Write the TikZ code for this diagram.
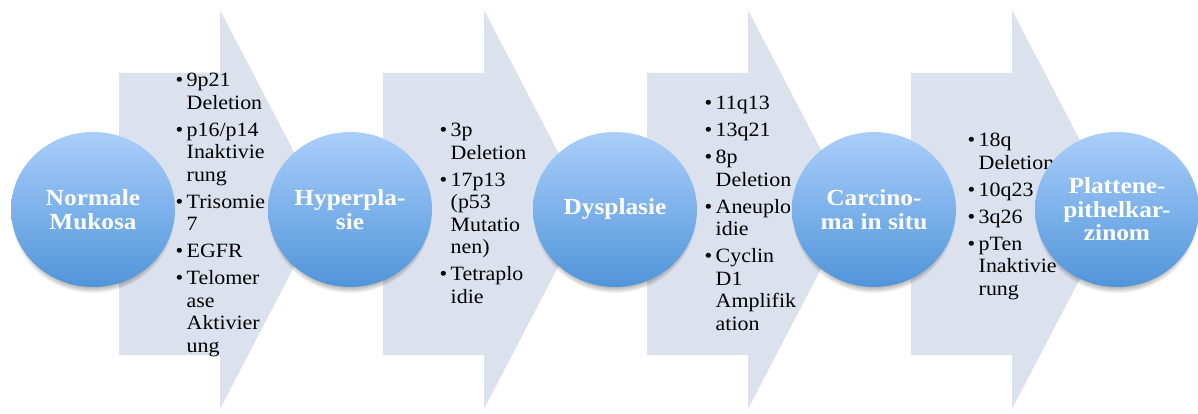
\documentclass[tikz,border=0pt]{standalone}
\usepackage{fontspec}
\setmainfont[FakeStretch=1.08]{Liberation Serif}
\newfontfamily\titlefont[FakeStretch=1.1]{Liberation Serif}
\usetikzlibrary{shapes.geometric}
\definecolor{arrowfill}{RGB}{220,225,238}
\definecolor{ctop}{RGB}{170,206,250}
\definecolor{cbot}{RGB}{80,149,218}
\newcommand{\gbul}{\makebox[11pt][l]{\textbullet}}
\begin{document}
\begin{tikzpicture}[x=1pt,y=-1pt,
  stage/.style={ellipse, minimum width=164pt, minimum height=155pt, inner sep=0pt,
    top color=ctop, bottom color=cbot, draw=none, text=white,
    font=\titlefont\bfseries\fontsize{23}{23.5}\selectfont, align=center},
  genes/.style={anchor=base west, inner sep=0pt, font=\fontsize{20.3}{22.5}\selectfont}]
\useasboundingbox (0,0) rectangle (1198,414);
% big arrows
\foreach \x in {119,383,647,911}{
  \fill[arrowfill] (\x,73) -- (\x+101,73) -- (\x+101,10) -- (\x+205,209.5)
    -- (\x+101,409) -- (\x+101,355) -- (\x,355) -- cycle;
}
% gene lists
\node[genes] (l1) at (175.5,87) {\begin{tabular}[t]{@{}l@{}l@{}}
\gbul & 9p21\\ & Deletion\\[4.5pt]
\gbul & p16/p14\\ & Inaktivie\\ & rung\\[4.5pt]
\gbul & Trisomie\\ & 7\\[4.5pt]
\gbul & EGFR\\[4.5pt]
\gbul & Telomer\\ & ase\\ & Aktivier\\ & ung
\end{tabular}};
\node[genes] (l2) at (439.5,137) {\begin{tabular}[t]{@{}l@{}l@{}}
\gbul & 3p\\ & Deletion\\[4.5pt]
\gbul & 17p13\\ & (p53\\ & Mutatio\\ & nen)\\[4.5pt]
\gbul & Tetraplo\\ & idie
\end{tabular}};
\node[genes] (l3) at (704.5,110) {\begin{tabular}[t]{@{}l@{}l@{}}
\gbul & 11q13\\[4.5pt]
\gbul & 13q21\\[4.5pt]
\gbul & 8p\\ & Deletion\\[4.5pt]
\gbul & Aneuplo\\ & idie\\[4.5pt]
\gbul & Cyclin\\ & D1\\ & Amplifik\\ & ation
\end{tabular}};
\node[genes] (l4) at (967.5,147) {\begin{tabular}[t]{@{}l@{}l@{}}
\gbul & 18q\\ & Deletion\\[4.5pt]
\gbul & 10q23\\[4.5pt]
\gbul & 3q26\\[4.5pt]
\gbul & pTen\\ & Inaktivie\\ & rung
\end{tabular}};
% shadows
\foreach \cx in {93,350,615,874,1117}{
  \foreach \i in {0,...,5}{
    \fill[black, opacity=0.05] (\cx,216) ellipse [x radius=76+\i, y radius=72+\i];
  }
}
% stages
\node[stage] (c1) at (93,209.5) {Normale\\Mukosa};
\node[stage] (c2) at (350,209.5) {Hyperpla-\\sie};
\node[stage] (c3) at (615,209.5) {Dysplasie};
\node[stage] (c4) at (874,209.5) {Carcino-\\ma in situ};
\node[stage] (c5) at (1117,209.5) {Plattene-\\pithelkar-\\zinom};
\end{tikzpicture}
\end{document}
